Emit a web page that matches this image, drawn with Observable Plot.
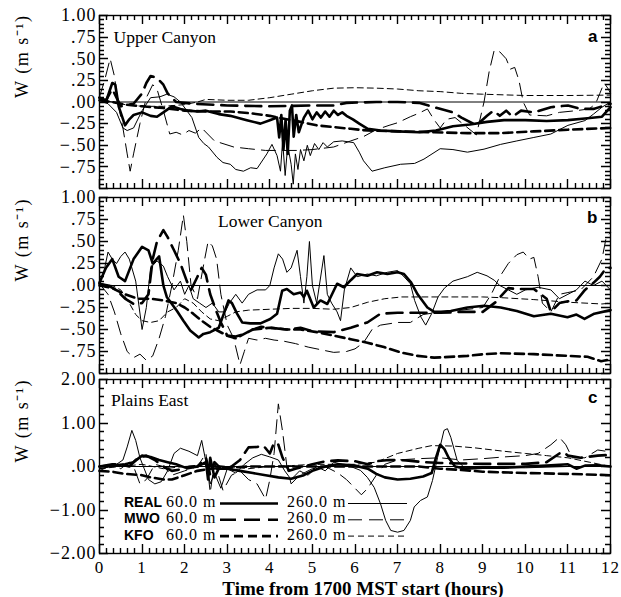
<!DOCTYPE html>
<html><head><meta charset="utf-8">
<script src="https://cdn.jsdelivr.net/npm/d3@7"></script>
<script src="https://cdn.jsdelivr.net/npm/@observablehq/plot@0.6"></script>
<style>
body{margin:0;background:#fff;}
#chart{position:relative;width:621px;height:597px;overflow:hidden;background:#fff;}
#chart svg{position:absolute;left:0;background:transparent !important;}
#chart g[aria-label="y-axis tick label"] text, #chart g[aria-label="x-axis tick label"] text{letter-spacing:1px;}
#chart .ytitle text{letter-spacing:1.5px;}
</style></head><body><div id="chart"></div>
<script>
// ---------- tick labels ----------
const hourTicks = [0,1,2,3,4,5,6,7,8,9,10,11,12];
const yTickLabelsAB = [-0.75,-0.5,-0.25,0,0.25,0.5,0.75,1];
const yTickLabelsC = [-2,-1,0,1,2];
const panelTitles = ["Upper Canyon","Lower Canyon","Plains East"];
const panelLetters = ["a","b","c"];
const yTitle = "W (m s\u207B\u00B9)";
const xTitle = "Time from 1700 MST start (hours)";
const legendNames = ["REAL","MWO","KFO"];
const legendHeights = ["60.0 m","260.0 m"];

// ---------- panel a : Upper Canyon ----------
const aReal60 = [[0,0.05],[0.15,0.0],[0.3,0.22],[0.37,0.2],[0.45,-0.05],[0.6,-0.27],[0.7,-0.2],[0.8,-0.15],[1.0,-0.12],[1.2,-0.16],[1.35,-0.17],[1.5,-0.12],[1.7,-0.05],[1.9,-0.08],[2.1,-0.1],[2.3,-0.11],[2.5,-0.1],[2.8,-0.14],[3.07,-0.16],[3.46,-0.21],[3.78,-0.25],[4.0,-0.21],[4.17,-0.18],[4.22,-0.41],[4.27,-0.15],[4.32,-0.55],[4.37,-0.2],[4.42,-0.6],[4.47,-0.1],[4.52,-0.04],[4.56,-0.4],[4.62,-0.15],[4.68,-0.35],[4.75,-0.25],[4.8,-0.18],[4.9,-0.1],[5.0,-0.2],[5.1,-0.12],[5.2,-0.18],[5.3,-0.11],[5.4,-0.17],[5.5,-0.1],[5.6,-0.15],[5.7,-0.12],[5.8,-0.16],[5.95,-0.2],[6.1,-0.25],[6.3,-0.31],[6.6,-0.33],[7.0,-0.34],[7.5,-0.35],[7.9,-0.33],[8.3,-0.28],[8.7,-0.26],[9.1,-0.23],[9.5,-0.21],[10,-0.21],[10.5,-0.22],[11,-0.21],[11.4,-0.19],[11.8,-0.17],[12,-0.06]];
const aReal260 = [[0,0.02],[0.2,-0.02],[0.4,-0.12],[0.55,-0.3],[0.65,-0.33],[0.8,-0.3],[1.0,-0.1],[1.2,0.05],[1.42,0.06],[1.58,0.09],[1.75,0.06],[1.9,0.0],[2.05,-0.1],[2.17,-0.18],[2.33,-0.41],[2.45,-0.48],[2.56,-0.52],[2.76,-0.64],[2.9,-0.7],[3.07,-0.72],[3.2,-0.78],[3.38,-0.8],[3.55,-0.76],[3.7,-0.77],[3.93,-0.6],[4.05,-0.49],[4.17,-0.62],[4.25,-0.8],[4.3,-0.45],[4.36,-0.85],[4.42,-0.5],[4.5,-0.72],[4.55,-0.95],[4.6,-0.6],[4.66,-0.78],[4.72,-0.55],[4.8,-0.68],[4.88,-0.5],[4.95,-0.62],[5.05,-0.48],[5.15,-0.55],[5.25,-0.47],[5.35,-0.52],[5.5,-0.46],[5.7,-0.45],[5.97,-0.47],[6.1,-0.58],[6.2,-0.68],[6.4,-0.8],[6.7,-0.76],[7.07,-0.72],[7.4,-0.71],[7.62,-0.66],[8.0,-0.54],[8.3,-0.55],[8.64,-0.58],[9.03,-0.545],[9.42,-0.49],[9.8,-0.45],[10.2,-0.41],[10.6,-0.37],[11.0,-0.27],[11.4,-0.215],[11.6,-0.14],[11.8,-0.06],[12,0.0]];
const aMwo60 = [[0,0.05],[0.15,0.02],[0.3,0.15],[0.4,0.05],[0.5,-0.05],[0.8,-0.02],[1.0,0.1],[1.1,0.22],[1.2,0.3],[1.35,0.28],[1.5,0.2],[1.6,0.1],[1.8,0.0],[2.2,-0.02],[3,-0.04],[4,-0.05],[5,-0.04],[5.5,-0.04],[5.8,-0.01],[6.5,0.0],[7.0,0.0],[7.5,-0.01],[7.86,-0.06],[8.3,-0.12],[8.5,-0.18],[8.85,-0.27],[9.1,-0.16],[9.25,-0.1],[9.4,-0.16],[9.55,-0.1],[9.7,-0.17],[9.9,-0.1],[10.2,-0.12],[10.6,-0.06],[11.0,-0.04],[11.3,-0.08],[11.6,-0.08],[11.8,-0.05],[12,-0.02]];
const aMwo260 = [[0,0.06],[0.12,0.25],[0.25,0.5],[0.35,0.3],[0.45,-0.05],[0.55,-0.3],[0.65,-0.6],[0.72,-0.8],[0.8,-0.6],[0.95,-0.25],[1.1,0.05],[1.25,0.2],[1.35,0.15],[1.5,-0.1],[1.65,-0.37],[1.8,-0.35],[1.95,-0.38],[2.1,-0.33],[2.25,-0.36],[2.4,-0.3],[2.7,-0.45],[3.15,-0.52],[3.5,-0.54],[3.9,-0.56],[4.3,-0.56],[4.64,-0.56],[5.0,-0.55],[5.5,-0.52],[5.9,-0.45],[6.2,-0.4],[6.5,-0.32],[6.8,-0.27],[7.0,-0.24],[7.3,-0.17],[7.5,-0.13],[7.7,-0.08],[7.85,-0.2],[8.0,-0.3],[8.15,-0.2],[8.35,-0.18],[8.6,-0.28],[8.85,-0.38],[9.03,0.0],[9.15,0.35],[9.27,0.6],[9.4,0.58],[9.55,0.5],[9.65,0.38],[9.75,0.4],[9.85,0.25],[9.95,0.0],[10.1,-0.15],[10.5,-0.16],[10.8,-0.12],[11.2,-0.1],[11.5,-0.08],[11.65,-0.02],[11.75,0.1],[11.85,0.22],[11.95,0.15],[12,0.1]];
const aKfo60 = [[0,0.02],[0.3,0.0],[0.6,-0.03],[1.0,-0.05],[1.5,-0.07],[2.0,-0.1],[2.5,-0.11],[3.07,-0.11],[3.54,-0.13],[4.0,-0.16],[4.2,-0.18],[4.72,-0.23],[5.1,-0.27],[5.5,-0.29],[5.9,-0.31],[6.3,-0.33],[7.07,-0.34],[7.86,-0.35],[8.64,-0.36],[9.42,-0.36],[10.2,-0.34],[11.0,-0.32],[12,-0.3]];
const aKfo260 = [[0,0.03],[0.3,0.0],[0.6,-0.03],[1.0,-0.05],[1.5,-0.05],[2.0,-0.03],[2.3,0.0],[2.5,0.03],[3.0,0.02],[3.5,0.02],[4.0,0.05],[4.5,0.09],[5.0,0.13],[5.5,0.16],[6.0,0.165],[6.5,0.16],[7.0,0.15],[7.5,0.13],[8.0,0.12],[8.5,0.1],[9.0,0.09],[10.0,0.075],[11.0,0.075],[12,0.08]];

// ---------- panel b : Lower Canyon ----------
const bReal60 = [[0,0.03],[0.15,0.2],[0.3,0.3],[0.45,0.1],[0.6,0.05],[0.8,0.3],[1.0,0.44],[1.15,0.4],[1.25,0.25],[1.4,0.33],[1.5,0.0],[1.58,-0.13],[1.82,-0.29],[1.97,-0.4],[2.13,-0.51],[2.33,-0.59],[2.44,-0.55],[2.6,-0.53],[2.8,-0.48],[2.92,-0.32],[3.03,-0.17],[3.11,-0.2],[3.23,-0.32],[3.35,-0.42],[3.54,-0.43],[3.78,-0.43],[4.01,-0.38],[4.17,-0.32],[4.29,-0.06],[4.4,-0.04],[4.56,-0.1],[4.72,-0.08],[4.8,-0.13],[4.87,-0.06],[5.03,-0.25],[5.19,-0.17],[5.35,-0.21],[5.5,-0.06],[5.58,0.02],[5.74,-0.02],[5.9,0.06],[6.05,0.13],[6.29,0.11],[6.52,0.15],[6.76,0.13],[7.0,0.15],[7.15,0.13],[7.31,0.04],[7.47,-0.1],[7.7,-0.25],[7.86,-0.3],[8.02,-0.3],[8.25,-0.29],[8.64,-0.25],[9.03,-0.23],[9.42,-0.25],[9.8,-0.29],[10.2,-0.35],[10.6,-0.32],[10.99,-0.36],[11.2,-0.33],[11.39,-0.38],[11.62,-0.32],[12,-0.28]];
const bReal260 = [[0,0.05],[0.1,0.15],[0.2,0.38],[0.3,0.3],[0.4,0.25],[0.5,0.33],[0.6,0.38],[0.7,0.3],[0.85,0.05],[1.0,-0.5],[1.1,-0.25],[1.2,0.2],[1.35,0.28],[1.5,0.22],[1.6,0.1],[1.75,-0.05],[1.9,0.05],[2.0,-0.1],[2.1,0.0],[2.2,-0.15],[2.35,-0.2],[2.5,-0.25],[2.65,-0.2],[2.8,-0.3],[2.95,-0.3],[3.05,-0.2],[3.2,-0.1],[3.35,-0.2],[3.5,-0.1],[3.7,-0.05],[3.9,-0.05],[4.0,0.0],[4.1,0.2],[4.2,0.36],[4.3,0.3],[4.4,0.15],[4.5,0.2],[4.64,0.4],[4.72,0.1],[4.8,-0.2],[4.87,0.1],[4.93,0.5],[5.0,0.0],[5.1,-0.2],[5.27,0.34],[5.35,-0.1],[5.45,-0.2],[5.58,-0.3],[5.66,-0.4],[5.75,-0.05],[5.9,0.2],[6.05,0.1],[6.29,0.13],[6.5,0.11],[6.76,0.15],[7.0,0.17],[7.15,0.1],[7.3,0.02],[7.4,-0.17],[7.55,-0.36],[7.66,-0.45],[7.8,-0.32],[7.95,-0.13],[8.1,-0.03],[8.3,0.05],[8.64,0.1],[8.87,0.15],[9.1,0.11],[9.27,0.06],[9.4,0.0],[9.6,-0.05],[9.8,-0.1],[10.0,-0.05],[10.3,-0.02],[10.6,-0.05],[10.8,-0.15],[11.0,-0.1],[11.2,-0.05],[11.4,0.05],[11.6,0.0],[11.8,0.05],[12,-0.05]];
const bMwo60 = [[0,0.02],[0.2,0.0],[0.4,-0.05],[0.6,-0.15],[0.8,-0.21],[1.0,-0.2],[1.15,-0.1],[1.25,0.3],[1.35,0.5],[1.5,0.63],[1.6,0.55],[1.75,0.4],[1.9,0.25],[2.05,0.05],[2.15,-0.05],[2.3,0.1],[2.4,0.2],[2.5,0.12],[2.6,-0.1],[2.75,-0.3],[2.85,-0.42],[3.0,-0.57],[3.2,-0.58],[3.4,-0.55],[3.6,-0.5],[3.8,-0.47],[4.0,-0.48],[4.4,-0.5],[4.72,-0.48],[5.0,-0.52],[5.5,-0.53],[5.9,-0.48],[6.29,-0.42],[6.6,-0.32],[7.0,-0.31],[7.5,-0.31],[8.0,-0.31],[8.5,-0.3],[9.0,-0.3],[9.3,-0.19],[9.6,-0.03],[9.8,-0.04],[10.2,-0.04],[10.5,-0.15],[10.6,-0.3],[10.8,-0.2],[11,-0.18],[11.2,-0.17],[11.4,-0.05],[11.6,0.03],[11.75,0.1],[11.9,0.2],[12,0.2]];
const bMwo260 = [[0,0.02],[0.2,-0.1],[0.35,-0.3],[0.5,-0.55],[0.65,-0.75],[0.8,-0.82],[0.95,-0.78],[1.1,-0.85],[1.25,-0.8],[1.4,-0.6],[1.55,-0.35],[1.7,0.0],[1.85,0.4],[1.97,0.8],[2.05,0.5],[2.15,0.0],[2.3,-0.15],[2.45,0.25],[2.55,0.5],[2.65,0.45],[2.75,0.3],[2.85,-0.1],[3.0,-0.45],[3.15,-0.6],[3.3,-0.9],[3.4,-0.75],[3.5,-0.6],[3.7,-0.62],[3.9,-0.6],[4.1,-0.62],[4.3,-0.63],[4.6,-0.66],[4.9,-0.7],[5.2,-0.73],[5.5,-0.76],[5.8,-0.75],[6.0,-0.72],[6.2,-0.65],[6.4,-0.5],[6.6,-0.45],[7.0,-0.42],[7.3,-0.42],[7.6,-0.33],[8.0,-0.3],[8.5,-0.28],[9.0,-0.25],[9.2,-0.1],[9.4,0.1],[9.6,0.25],[9.8,0.35],[9.95,0.38],[10.1,0.3],[10.2,0.32],[10.3,0.1],[10.4,-0.2],[10.6,-0.3],[10.8,-0.1],[11.0,-0.08],[11.3,-0.05],[11.6,0.1],[11.8,0.3],[11.9,0.55],[12,0.6]];
const bKfo60 = [[0,0.0],[0.3,-0.03],[0.6,-0.1],[0.9,-0.15],[1.2,-0.15],[1.5,-0.17],[1.8,-0.2],[2.0,-0.25],[2.2,-0.32],[2.4,-0.4],[2.6,-0.47],[2.8,-0.52],[3.0,-0.57],[3.2,-0.6],[3.4,-0.55],[3.6,-0.5],[4.0,-0.48],[4.4,-0.5],[4.72,-0.5],[5.1,-0.53],[5.5,-0.57],[5.9,-0.61],[6.29,-0.65],[6.68,-0.7],[7.07,-0.76],[7.47,-0.8],[7.86,-0.82],[8.64,-0.8],[9.03,-0.78],[9.42,-0.77],[10.2,-0.78],[11,-0.8],[11.46,-0.81],[11.78,-0.86],[12,-0.84]];
const bKfo260 = [[0,0.02],[0.3,0.0],[0.5,-0.05],[0.7,-0.2],[0.85,-0.33],[1.0,-0.4],[1.2,-0.42],[1.4,-0.4],[1.6,-0.3],[1.8,-0.25],[2.0,-0.15],[2.2,-0.2],[2.4,-0.3],[2.6,-0.38],[2.8,-0.4],[3.0,-0.35],[3.2,-0.3],[3.5,-0.28],[4.0,-0.27],[4.5,-0.26],[5.0,-0.26],[5.5,-0.27],[5.9,-0.25],[6.3,-0.19],[6.7,-0.15],[7.1,-0.13],[8,-0.13],[9,-0.13],[9.5,-0.14],[10.2,-0.16],[11,-0.19],[11.8,-0.21],[12,-0.2]];

// ---------- panel c : Plains East ----------
const cReal60 = [[0,0.0],[0.3,0.02],[0.6,0.05],[0.8,0.1],[1.0,0.25],[1.2,0.22],[1.4,0.15],[1.6,0.1],[1.8,0.05],[2.0,-0.02],[2.3,0.0],[2.5,0.1],[2.55,-0.3],[2.6,0.2],[2.7,-0.25],[2.8,-0.05],[3.0,-0.05],[3.3,-0.1],[3.6,-0.15],[3.9,-0.2],[4.2,-0.25],[4.5,-0.28],[4.8,-0.2],[5.0,-0.1],[5.3,0.0],[5.6,0.05],[6.0,0.02],[6.3,-0.05],[6.5,-0.17],[6.7,-0.25],[7.0,-0.3],[7.3,-0.28],[7.6,-0.23],[7.8,-0.15],[7.9,0.2],[8.0,0.5],[8.1,0.4],[8.2,0.2],[8.35,0.0],[8.6,-0.05],[9,-0.03],[9.5,-0.03],[10,0.0],[10.5,0.02],[11,0.05],[11.2,-0.05],[11.4,0.02],[11.7,0.03],[12,0.0]];
const cReal260 = [[0,-0.1],[0.2,0.0],[0.4,0.05],[0.55,0.15],[0.65,0.45],[0.76,0.83],[0.85,0.6],[0.95,0.2],[1.05,-0.05],[1.15,-0.3],[1.3,-0.4],[1.45,-0.35],[1.6,-0.1],[1.75,0.3],[1.9,0.42],[2.1,0.35],[2.3,0.25],[2.4,0.6],[2.5,0.1],[2.6,-0.4],[2.7,-0.15],[2.85,-0.5],[3.0,-0.05],[3.2,-0.15],[3.4,0.05],[3.6,0.2],[3.8,0.28],[4.0,0.22],[4.2,0.15],[4.35,-0.1],[4.5,-0.3],[4.7,-0.1],[4.9,-0.2],[5.1,0.0],[5.3,-0.1],[5.5,0.1],[5.7,0.05],[5.9,0.0],[6.13,-0.09],[6.29,-0.25],[6.45,-0.48],[6.6,-0.86],[6.72,-1.24],[6.84,-1.47],[7.0,-1.51],[7.15,-1.47],[7.3,-1.24],[7.39,-0.93],[7.54,-0.78],[7.7,-0.7],[7.82,-0.32],[7.94,0.21],[8.09,0.83],[8.17,0.87],[8.25,0.67],[8.4,0.14],[8.56,-0.02],[9,-0.03],[10,-0.03],[11,0.0],[11.5,0.0],[12,0.0]];
const cMwo60 = [[0,0.0],[0.3,0.05],[0.5,0.05],[0.7,0.0],[0.9,0.2],[1.1,0.25],[1.3,0.15],[1.5,0.0],[1.7,-0.1],[2.0,-0.05],[2.3,0.0],[2.5,0.2],[2.6,-0.2],[2.7,0.1],[2.9,-0.1],[3.1,0.0],[3.3,0.15],[3.5,0.44],[3.7,0.45],[3.85,0.48],[4.0,0.3],[4.1,0.55],[4.2,0.5],[4.3,0.2],[4.45,-0.1],[4.6,-0.05],[4.8,0.0],[5.0,0.05],[5.3,0.12],[5.6,0.14],[6.0,0.12],[6.3,0.05],[6.5,0.12],[6.8,0.15],[7.2,0.14],[7.6,0.1],[8.0,0.08],[8.5,0.07],[9,0.06],[10,0.06],[10.5,0.1],[10.8,0.3],[10.9,0.33],[11.0,0.25],[11.3,0.2],[11.7,0.25],[12,0.27]];
const cMwo260 = [[0,-0.05],[0.3,0.0],[0.5,-0.05],[0.7,0.1],[0.8,0.0],[0.95,-0.4],[1.1,-0.3],[1.3,0.05],[1.5,0.0],[1.7,-0.2],[2.0,-0.1],[2.3,0.0],[2.5,0.3],[2.6,-0.6],[2.7,0.1],[2.9,-0.55],[3.1,-0.2],[3.3,-0.1],[3.5,-0.3],[3.7,-0.4],[3.9,-0.75],[4.0,-0.3],[4.1,0.3],[4.2,1.44],[4.3,0.8],[4.4,0.0],[4.5,-0.4],[4.7,-0.2],[5.0,-0.05],[5.3,0.0],[5.6,-0.15],[5.8,-0.3],[6.0,-0.5],[6.15,-0.65],[6.3,-0.5],[6.5,-0.2],[6.7,0.05],[7.0,0.15],[7.5,0.18],[8.0,0.2],[8.5,0.15],[9.0,0.18],[9.5,0.22],[10.0,0.25],[10.3,0.3],[10.6,0.5],[10.8,0.67],[10.95,0.5],[11.1,0.2],[11.4,0.2],[11.7,0.38],[11.9,0.35],[12,0.3]];
const cKfo60 = [[0,-0.1],[0.3,-0.12],[0.6,-0.17],[1.0,-0.2],[1.2,-0.25],[1.4,-0.28],[1.5,-0.3],[1.7,-0.3],[2.0,-0.2],[2.3,-0.1],[2.6,-0.05],[3.0,-0.03],[3.5,0.0],[4.0,0.0],[4.5,0.0],[5,0.0],[5.5,0.0],[6,0.0],[6.5,0.0],[7,0.0],[7.5,0.0],[8.0,-0.05],[8.5,-0.08],[9,-0.12],[10,-0.15],[11,-0.17],[12,-0.2]];
const cKfo260 = [[0,-0.05],[0.5,0.0],[1.0,0.05],[1.5,-0.05],[2.0,0.0],[2.5,0.05],[3,0.0],[3.5,-0.05],[4,0.0],[4.5,0.02],[5,0.05],[5.5,0.05],[6,0.05],[6.5,0.1],[7.0,0.3],[7.5,0.42],[7.8,0.48],[8.3,0.47],[8.8,0.43],[9.5,0.35],[10,0.3],[10.5,0.25],[11,0.2],[11.5,0.1],[12,0.0]];

// ---------- styles ----------
const STYLE = {
  real60:{w:2.6,dash:null}, real260:{w:1,dash:null},
  mwo60:{w:2.6,dash:"16,8"}, mwo260:{w:1,dash:"14,7"},
  kfo60:{w:2.6,dash:"9,5"}, kfo260:{w:1,dash:"6,4"}
};
const SERIF = "Liberation Serif";
const fmt = d => (d < 0 ? "\u2212" : "") + Math.abs(d).toFixed(2).replace(/^0\./, ".");
const xMinor = d3.range(0, 73).map(i => i / 6);
const W = 621, ML = 99, MR = 11;

// overlay for decorations (inward ticks, legend)
const overlay = d3.create("svg").attr("width",W).attr("height",597).style("top","0px").style("pointer-events","none");
const tickPath = [];

function makePanel(cfg) {
  const fh = cfg.height - cfg.mt - cfg.mb;
  const [y0, y1] = cfg.yDomain;
  const nMaj = Math.round((y1 - y0) / cfg.majorStep), nMin = Math.round((y1 - y0) / cfg.minorStep);
  const yMajor = d3.range(0, nMaj + 1).map(i => y0 + i * cfg.majorStep);
  const yMinor = d3.range(0, nMin + 1).map(i => y0 + i * cfg.minorStep);
  const marks = [
    Plot.ruleY([0], {stroke:"black", strokeWidth:1}),
    ...cfg.series.map(([key, data]) => Plot.line(data, {x:d=>d[0], y:d=>d[1], stroke:"black", strokeWidth:STYLE[key].w, strokeDasharray:STYLE[key].dash})),
    Plot.frame({stroke:"black", strokeWidth:1.4}),
    Plot.axisY(cfg.yLabels, {anchor:"left", tickSize:0, tickPadding:3, tickFormat:fmt, fontSize:18, label:null, fontFamily:SERIF}),
    Plot.text([yTitle], {text:d=>d, frameAnchor:"left", rotate:-90, dx:-77, dy:-4, fontSize:18, fontFamily:SERIF, className:"ytitle"}),
    Plot.text([cfg.title], {text:d=>d, frameAnchor:"top-left", textAnchor:"start", lineAnchor:"top", dx:cfg.titleDx, dy:cfg.titleDy, fontSize:17.5, fontFamily:SERIF}),
    Plot.text([cfg.letter], {text:d=>d, frameAnchor:"top-right", textAnchor:"end", lineAnchor:"top", dx:-13, dy:cfg.letterDy, fontSize:17, fontWeight:"bold", fontFamily:"Liberation Sans"})
  ];
  if (cfg.showX) {
    marks.push(Plot.axisX(hourTicks, {anchor:"bottom", tickSize:0, tickPadding:7, fontSize:17, tickFormat:d=>String(d), label:null, fontFamily:SERIF}));
    marks.push(Plot.text([xTitle], {text:d=>d, frameAnchor:"bottom", lineAnchor:"top", dx:8, dy:27.5, fontSize:19, fontWeight:"bold", fontFamily:SERIF}));
  }
  const svg = Plot.plot({
    width:W, height:cfg.height,
    marginLeft:ML, marginRight:MR, marginTop:cfg.mt, marginBottom:cfg.mb,
    x:{domain:[0,12], axis:null},
    y:{domain:cfg.yDomain, axis:null},
    style:"font-family:'Liberation Serif',serif;font-size:16px;background:transparent;color:black;overflow:visible;",
    marks
  });
  svg.style.top = cfg.top + "px";

  // inward ticks: same linear mapping as the plot's x and y scales (domain -> frame)
  const px = d3.scaleLinear().domain([0, 12]).range([ML, W - MR]);
  const py = d3.scaleLinear().domain([y0, y1]).range([cfg.top + cfg.mt + fh, cfg.top + cfg.mt]);
  const top = py(y1), bot = py(y0), left = px(0), right = px(12);
  const xt = (vals, len) => vals.forEach(v => {
    const X = Math.round(px(v)) + 0.5;
    tickPath.push(`M${X},${bot}V${bot - len}`, `M${X},${top}V${top + len}`);
  });
  const yt = (vals, len) => vals.forEach(v => {
    const Y = Math.round(py(v)) + 0.5;
    tickPath.push(`M${left},${Y}H${left + len}`, `M${right},${Y}H${right - len}`);
  });
  xt(hourTicks, 9); xt(xMinor, 5); yt(yMajor, 9); yt(yMinor, 5);
  return svg;
}

const chart = document.getElementById("chart");
chart.appendChild(makePanel({top:0, height:195, mt:15, mb:7, yDomain:[-1,1], majorStep:0.25, minorStep:0.05, yLabels:yTickLabelsAB,
  title:panelTitles[0], titleDx:14, titleDy:15, letter:panelLetters[0], letterDy:14.5,
  series:[["kfo260",aKfo260],["mwo260",aMwo260],["real260",aReal260],["kfo60",aKfo60],["mwo60",aMwo60],["real60",aReal60]]}));
chart.appendChild(makePanel({top:180, height:200, mt:17, mb:7, yDomain:[-1,1], majorStep:0.25, minorStep:0.05, yLabels:yTickLabelsAB,
  title:panelTitles[1], titleDx:118.5, titleDy:17, letter:panelLetters[1], letterDy:13.5,
  series:[["kfo260",bKfo260],["mwo260",bMwo260],["real260",bReal260],["kfo60",bKfo60],["mwo60",bMwo60],["real60",bReal60]]}));
chart.appendChild(makePanel({top:360, height:237, mt:19, mb:44, yDomain:[-2,2], majorStep:1, minorStep:0.2, yLabels:yTickLabelsC,
  title:panelTitles[2], titleDx:11.5, titleDy:14, letter:panelLetters[2], letterDy:11.5, showX:true,
  series:[["kfo260",cKfo260],["mwo260",cMwo260],["real260",cReal260],["kfo60",cKfo60],["mwo60",cMwo60],["real60",cReal60]]}));

overlay.append("path").attr("d", tickPath.join("")).attr("fill","none").attr("stroke","black").attr("stroke-width",1.4);

// ---------- legend (inside panel c) ----------
const legendKeys = [["real60","real260"],["mwo60","mwo260"],["kfo60","kfo260"]];
legendNames.forEach((name, i) => {
  const base = 507 + i * 16.3;
  overlay.append("text").attr("x",124).attr("y",base).attr("font-family","Liberation Sans").attr("font-weight","bold").attr("font-size",14).text(name);
  overlay.append("text").attr("x",166).attr("y",base).attr("font-family",SERIF).attr("font-size",16).attr("letter-spacing",1).text(legendHeights[0]);
  overlay.append("text").attr("x",287).attr("y",base).attr("font-family",SERIF).attr("font-size",16).attr("letter-spacing",1).text(legendHeights[1]);
  [[220,278,legendKeys[i][0]],[348,407,legendKeys[i][1]]].forEach(([x1,x2,k]) => {
    overlay.append("line").attr("x1",x1).attr("x2",x2).attr("y1",base-3.5).attr("y2",base-3.5)
      .attr("stroke","black").attr("stroke-width",STYLE[k].w).attr("stroke-dasharray",STYLE[k].dash);
  });
});
chart.appendChild(overlay.node());
</script></body></html>
